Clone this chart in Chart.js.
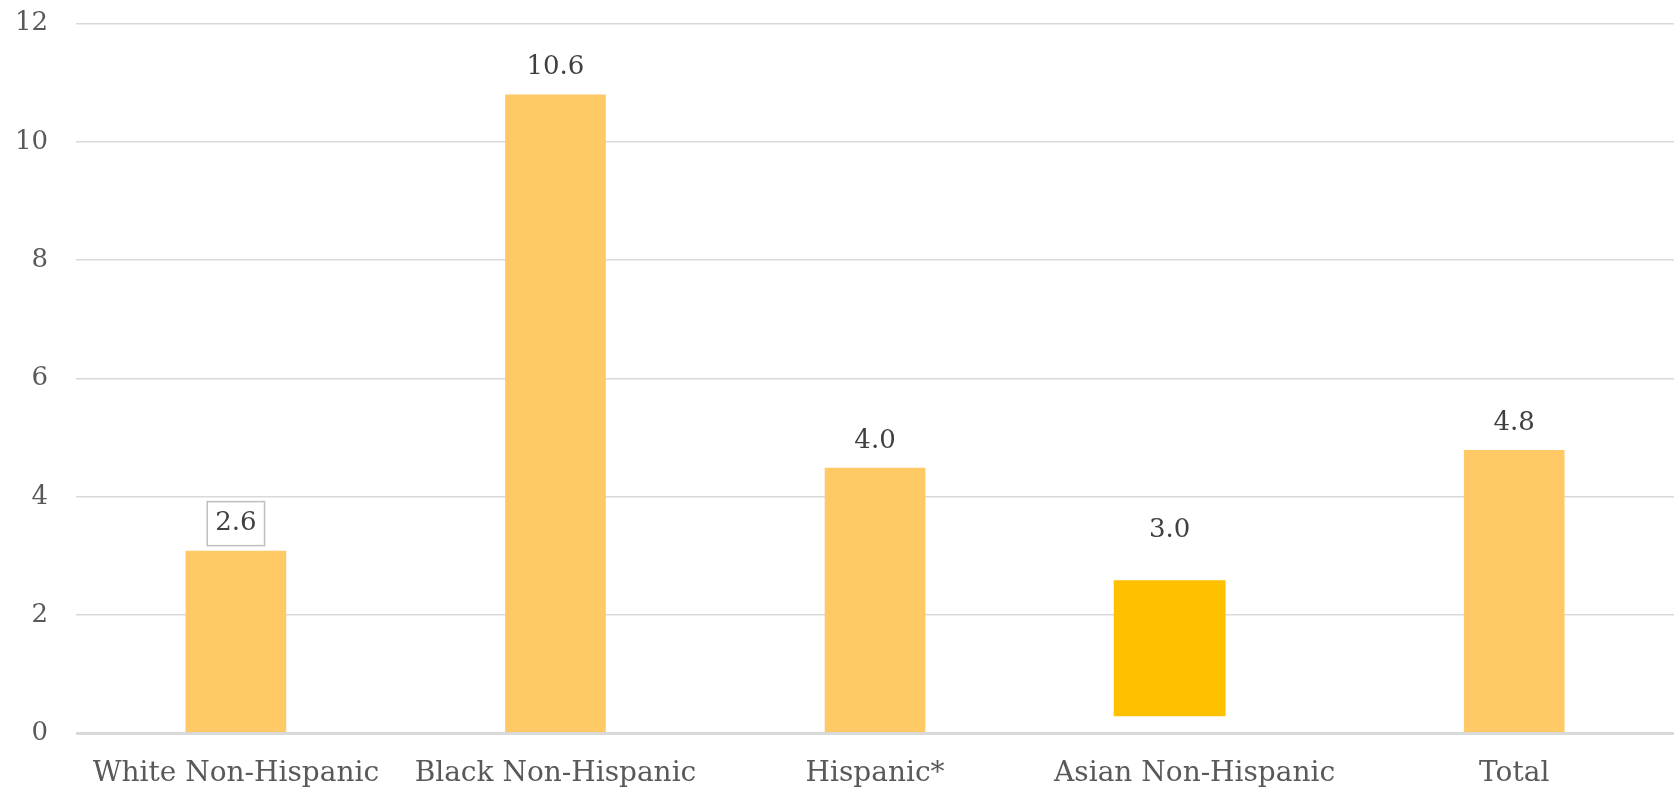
<!DOCTYPE html>
<html>
<head>
<meta charset="utf-8">
<script src="https://cdn.jsdelivr.net/npm/chart.js@4"></script>
<style>
  html, body { margin: 0; padding: 0; background: #fff; }
  #rateChart { display: block; }
</style>
</head>
<body>
<canvas id="rateChart" width="1674" height="791"></canvas>
<script>
const categories = ['White Non-Hispanic', 'Black Non-Hispanic', 'Hispanic*', 'Asian Non-Hispanic', 'Total'];
const barTops = [3.09, 10.8, 4.49, 2.59, 4.79];
const barBases = [0, 0, 0, 0.29, 0];
const valueLabels = ['2.6', '10.6', '4.0', '3.0', '4.8'];

const serif = '"DejaVu Serif", serif';
const HIGHLIGHT = 3; // the darker, floating bar

const ranges = barTops.map((v, i) => [barBases[i], v]);

// labels drawn above each bar (text differs from bar height in the source)
const valueLabelPlugin = {
    id: 'valueLabels',
    afterDatasetsDraw(chart) {
        const ctx = chart.ctx;
        ctx.save();
        ctx.font = '26px ' + serif;
        ctx.fillStyle = '#404040';
        ctx.textAlign = 'center';
        ctx.textBaseline = 'middle';
        valueLabels.forEach((txt, i) => {
            const bar = chart.getDatasetMeta(i === HIGHLIGHT ? 1 : 0).data[i];
            const gap = i === HIGHLIGHT ? 50 : 27;
            const y = bar.y - gap;
            ctx.fillText(txt, bar.x, y);
            if (i === 0) {
                const w = ctx.measureText(txt).width + 16;
                ctx.strokeStyle = '#bfbfbf';
                ctx.lineWidth = 1.5;
                ctx.strokeRect(bar.x - w / 2, y - 22, w, 44);
            }
        });
        ctx.restore();
    }
};

const ctx = document.getElementById('rateChart').getContext('2d');
const rateChart = new Chart(ctx, {
    type: 'bar',
    data: {
        labels: categories,
        datasets: [{
            data: ranges.map((r, i) => i === HIGHLIGHT ? null : r),
            backgroundColor: '#FFCA66',
            borderWidth: 0,
            grouped: false,
            barPercentage: 0.315,
            categoryPercentage: 1
        }, {
            // highlighted bar sits a bit left of centre and is wider
            data: ranges.map((r, i) => i === HIGHLIGHT ? r : null),
            backgroundColor: '#FFC000',
            borderWidth: 0,
            categoryPercentage: 0.3125,
            barPercentage: 2.24
        }, {
            data: categories.map(() => null)
        }]
    },
    options: {
        responsive: false,
        animation: false,
        layout: { padding: { top: 0, right: 0, left: 7, bottom: -16 } },
        plugins: {
            legend: { display: false },
            tooltip: { enabled: false }
        },
        scales: {
            x: {
                grid: { display: false },
                border: { display: false },
                ticks: {
                    color: '#595959',
                    font: { family: serif, size: 28 },
                    padding: 16,
                    maxRotation: 0,
                    autoSkip: false
                }
            },
            y: {
                min: 0,
                max: 12,
                border: { display: false },
                grid: {
                    color: '#d9d9d9',
                    lineWidth: c => c.tick && c.tick.value === 0 ? 3 : 1.5,
                    drawTicks: true,
                    tickLength: 20,
                    tickColor: 'rgba(0,0,0,0)'
                },
                ticks: {
                    stepSize: 2,
                    color: '#595959',
                    font: { family: serif, size: 26 },
                    padding: 8
                }
            }
        }
    },
    plugins: [valueLabelPlugin]
});
</script>
</body>
</html>
